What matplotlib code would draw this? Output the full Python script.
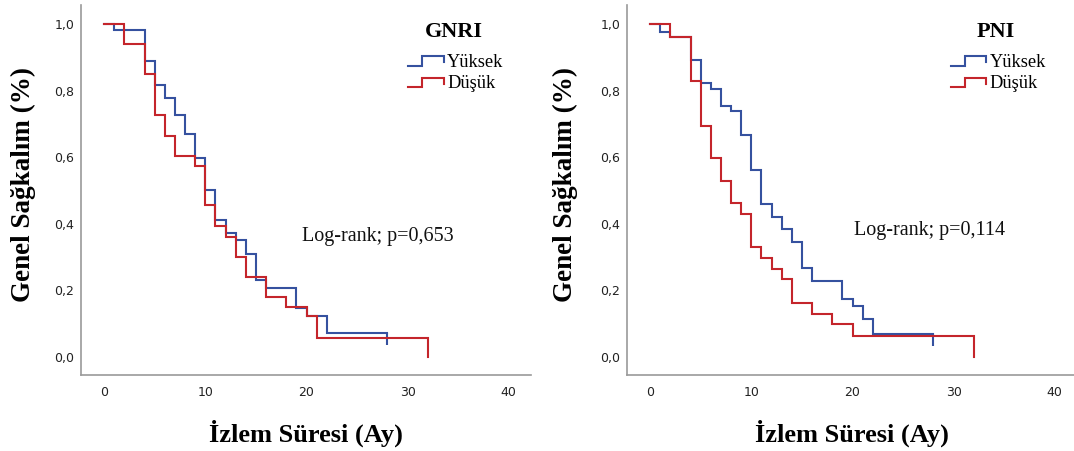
import matplotlib
matplotlib.use("Agg")
import matplotlib.pyplot as plt
from matplotlib.lines import Line2D
from matplotlib.legend_handler import HandlerBase
from matplotlib.path import Path

# ---------------- data ----------------
# GNRI panel
gnri_high_t = [0, 1, 4, 5, 6, 7, 8, 9, 10, 11, 12, 13, 14, 15, 16, 19, 20, 22]
gnri_high_s = [1.0, 0.981, 0.889, 0.817, 0.779, 0.726, 0.669, 0.597, 0.503, 0.410,
               0.373, 0.351, 0.309, 0.230, 0.206, 0.146, 0.123, 0.073]
gnri_high_censor = 28
gnri_low_t = [0, 2, 4, 5, 6, 7, 9, 10, 11, 12, 13, 14, 16, 18, 20, 21, 32]
gnri_low_s = [1.0, 0.939, 0.849, 0.726, 0.664, 0.604, 0.574, 0.456, 0.393, 0.360,
              0.300, 0.240, 0.180, 0.150, 0.123, 0.058, 0.0]

# PNI panel
pni_high_t = [0, 1, 2, 4, 5, 6, 7, 8, 9, 10, 11, 12, 13, 14, 15, 16, 19, 20, 21, 22]
pni_high_s = [1.0, 0.977, 0.961, 0.891, 0.824, 0.804, 0.754, 0.739, 0.667, 0.561,
              0.458, 0.420, 0.383, 0.346, 0.266, 0.228, 0.173, 0.153, 0.113, 0.068]
pni_high_censor = 28
pni_low_t = [0, 2, 4, 5, 6, 7, 8, 9, 10, 11, 12, 13, 14, 16, 18, 20, 32]
pni_low_s = [1.0, 0.961, 0.829, 0.694, 0.597, 0.529, 0.462, 0.430, 0.330, 0.296,
             0.263, 0.233, 0.163, 0.130, 0.098, 0.063, 0.0]

panel_titles = ["GNRI", "PNI"]
p_texts = ["Log-rank; p=0,653", "Log-rank; p=0,114"]
group_labels = ["Yüksek", "Düşük"]
x_ticks = [0, 10, 20, 30, 40]
x_tick_labels = ["0", "10", "20", "30", "40"]
y_ticks = [0.0, 0.2, 0.4, 0.6, 0.8, 1.0]
y_tick_labels = ["0,0", "0,2", "0,4", "0,6", "0,8", "1,0"]
x_label = "İzlem Süresi (Ay)"
y_label = "Genel Sağkalım (%)"

# ---------------- style ----------------
BLUE = "#35519f"
RED = "#c4252b"
SERIF = "Liberation Serif"
SANS = "DejaVu Sans"
LW = 1.5

plt.rcParams["font.family"] = [SERIF, "DejaVu Serif"]

W, H = 1074, 451
fig = plt.figure(figsize=(W / 100, H / 100), dpi=100)

# axes rectangles in pixels: left, top, right, bottom
rects = [(81, 5, 531, 375), (627, 5, 1077, 375)]


class StepHandler(HandlerBase):
    def create_artists(self, legend, orig_handle, xdescent, ydescent,
                       width, height, fontsize, trans):
        x0, y0 = -xdescent, -ydescent
        xm = x0 + 0.4 * width
        xs = [x0, xm, xm, x0 + width, x0 + width]
        ys = [y0 + 0.1 * height, y0 + 0.1 * height, y0 + 0.85 * height,
              y0 + 0.85 * height, y0 + 0.35 * height]
        ln = Line2D(xs, ys, color=orig_handle.get_color(),
                    lw=orig_handle.get_linewidth(), solid_joinstyle="miter")
        ln.set_transform(trans)
        return [ln]


censor_marker = Path([(0, 0), (0, -1)], [Path.MOVETO, Path.LINETO])

panels = [
    (gnri_high_t, gnri_high_s, gnri_high_censor, gnri_low_t, gnri_low_s),
    (pni_high_t, pni_high_s, pni_high_censor, pni_low_t, pni_low_s),
]
ylabel_x = [-0.10, -0.11]
p_pos = [(19.6, 0.363), (20.1, 0.381)]
title_x = [0.829, 0.82]
legend_x = [0.727, 0.719]

for i, (rect, data) in enumerate(zip(rects, panels)):
    l, t, r, b = rect
    ax = fig.add_axes([l / W, 1 - b / H, (r - l) / W, (b - t) / H])
    ht, hs, hc, lt, ls = data

    # high group: steps, then flat to censoring time, with censor tick
    ax.plot(list(ht) + [hc], list(hs) + [hs[-1]], drawstyle="steps-post",
            color=BLUE, lw=LW, solid_joinstyle="miter")
    ax.plot([hc], [hs[-1]], linestyle="none", marker=censor_marker,
            markersize=17, markeredgewidth=LW, color=BLUE)
    # low group
    ax.plot(lt, ls, drawstyle="steps-post", color=RED, lw=LW,
            solid_joinstyle="miter")

    ax.set_xlim(-2.3, 42.2)
    ax.set_ylim(-0.054, 1.057)
    ax.set_xticks(x_ticks)
    ax.set_xticklabels(x_tick_labels, fontfamily=SANS, fontsize=9, color="#222222")
    ax.set_yticks(y_ticks)
    ax.set_yticklabels(y_tick_labels, fontfamily=SANS, fontsize=9, color="#222222")
    ax.tick_params(axis="both", length=0)
    ax.tick_params(axis="x", pad=8)
    ax.tick_params(axis="y", pad=5)

    for s in ("top", "right"):
        ax.spines[s].set_visible(False)
    for s in ("left", "bottom"):
        ax.spines[s].set_color("#9a9a9a")
        ax.spines[s].set_linewidth(1.2)

    ax.set_xlabel(x_label, fontfamily=SERIF, fontweight="bold", fontsize=19)
    ax.xaxis.set_label_coords(0.5, -0.12)
    ax.set_ylabel(y_label, fontfamily=SERIF, fontweight="bold", fontsize=19.5)
    ax.yaxis.set_label_coords(ylabel_x[i], 0.515)

    # p-value text
    ax.text(p_pos[i][0], p_pos[i][1], p_texts[i], fontfamily=SERIF,
            fontsize=14.5, ha="left", va="center", color="#111111")

    # legend title
    ax.text(title_x[i], 0.928, panel_titles[i], transform=ax.transAxes,
            fontfamily=SERIF, fontweight="bold", fontsize=16,
            ha="center", va="center")

    handles = [Line2D([], [], color=BLUE, lw=LW), Line2D([], [], color=RED, lw=LW)]
    ax.legend(handles, group_labels, loc="upper left",
              bbox_to_anchor=(legend_x[i], 0.868), frameon=False,
              prop={"family": SERIF, "size": 13.2},
              handler_map={Line2D: StepHandler()},
              handlelength=1.95, handletextpad=0.17,
              labelspacing=0.25, borderpad=0, borderaxespad=0)

fig.savefig("out.png", dpi=100)
